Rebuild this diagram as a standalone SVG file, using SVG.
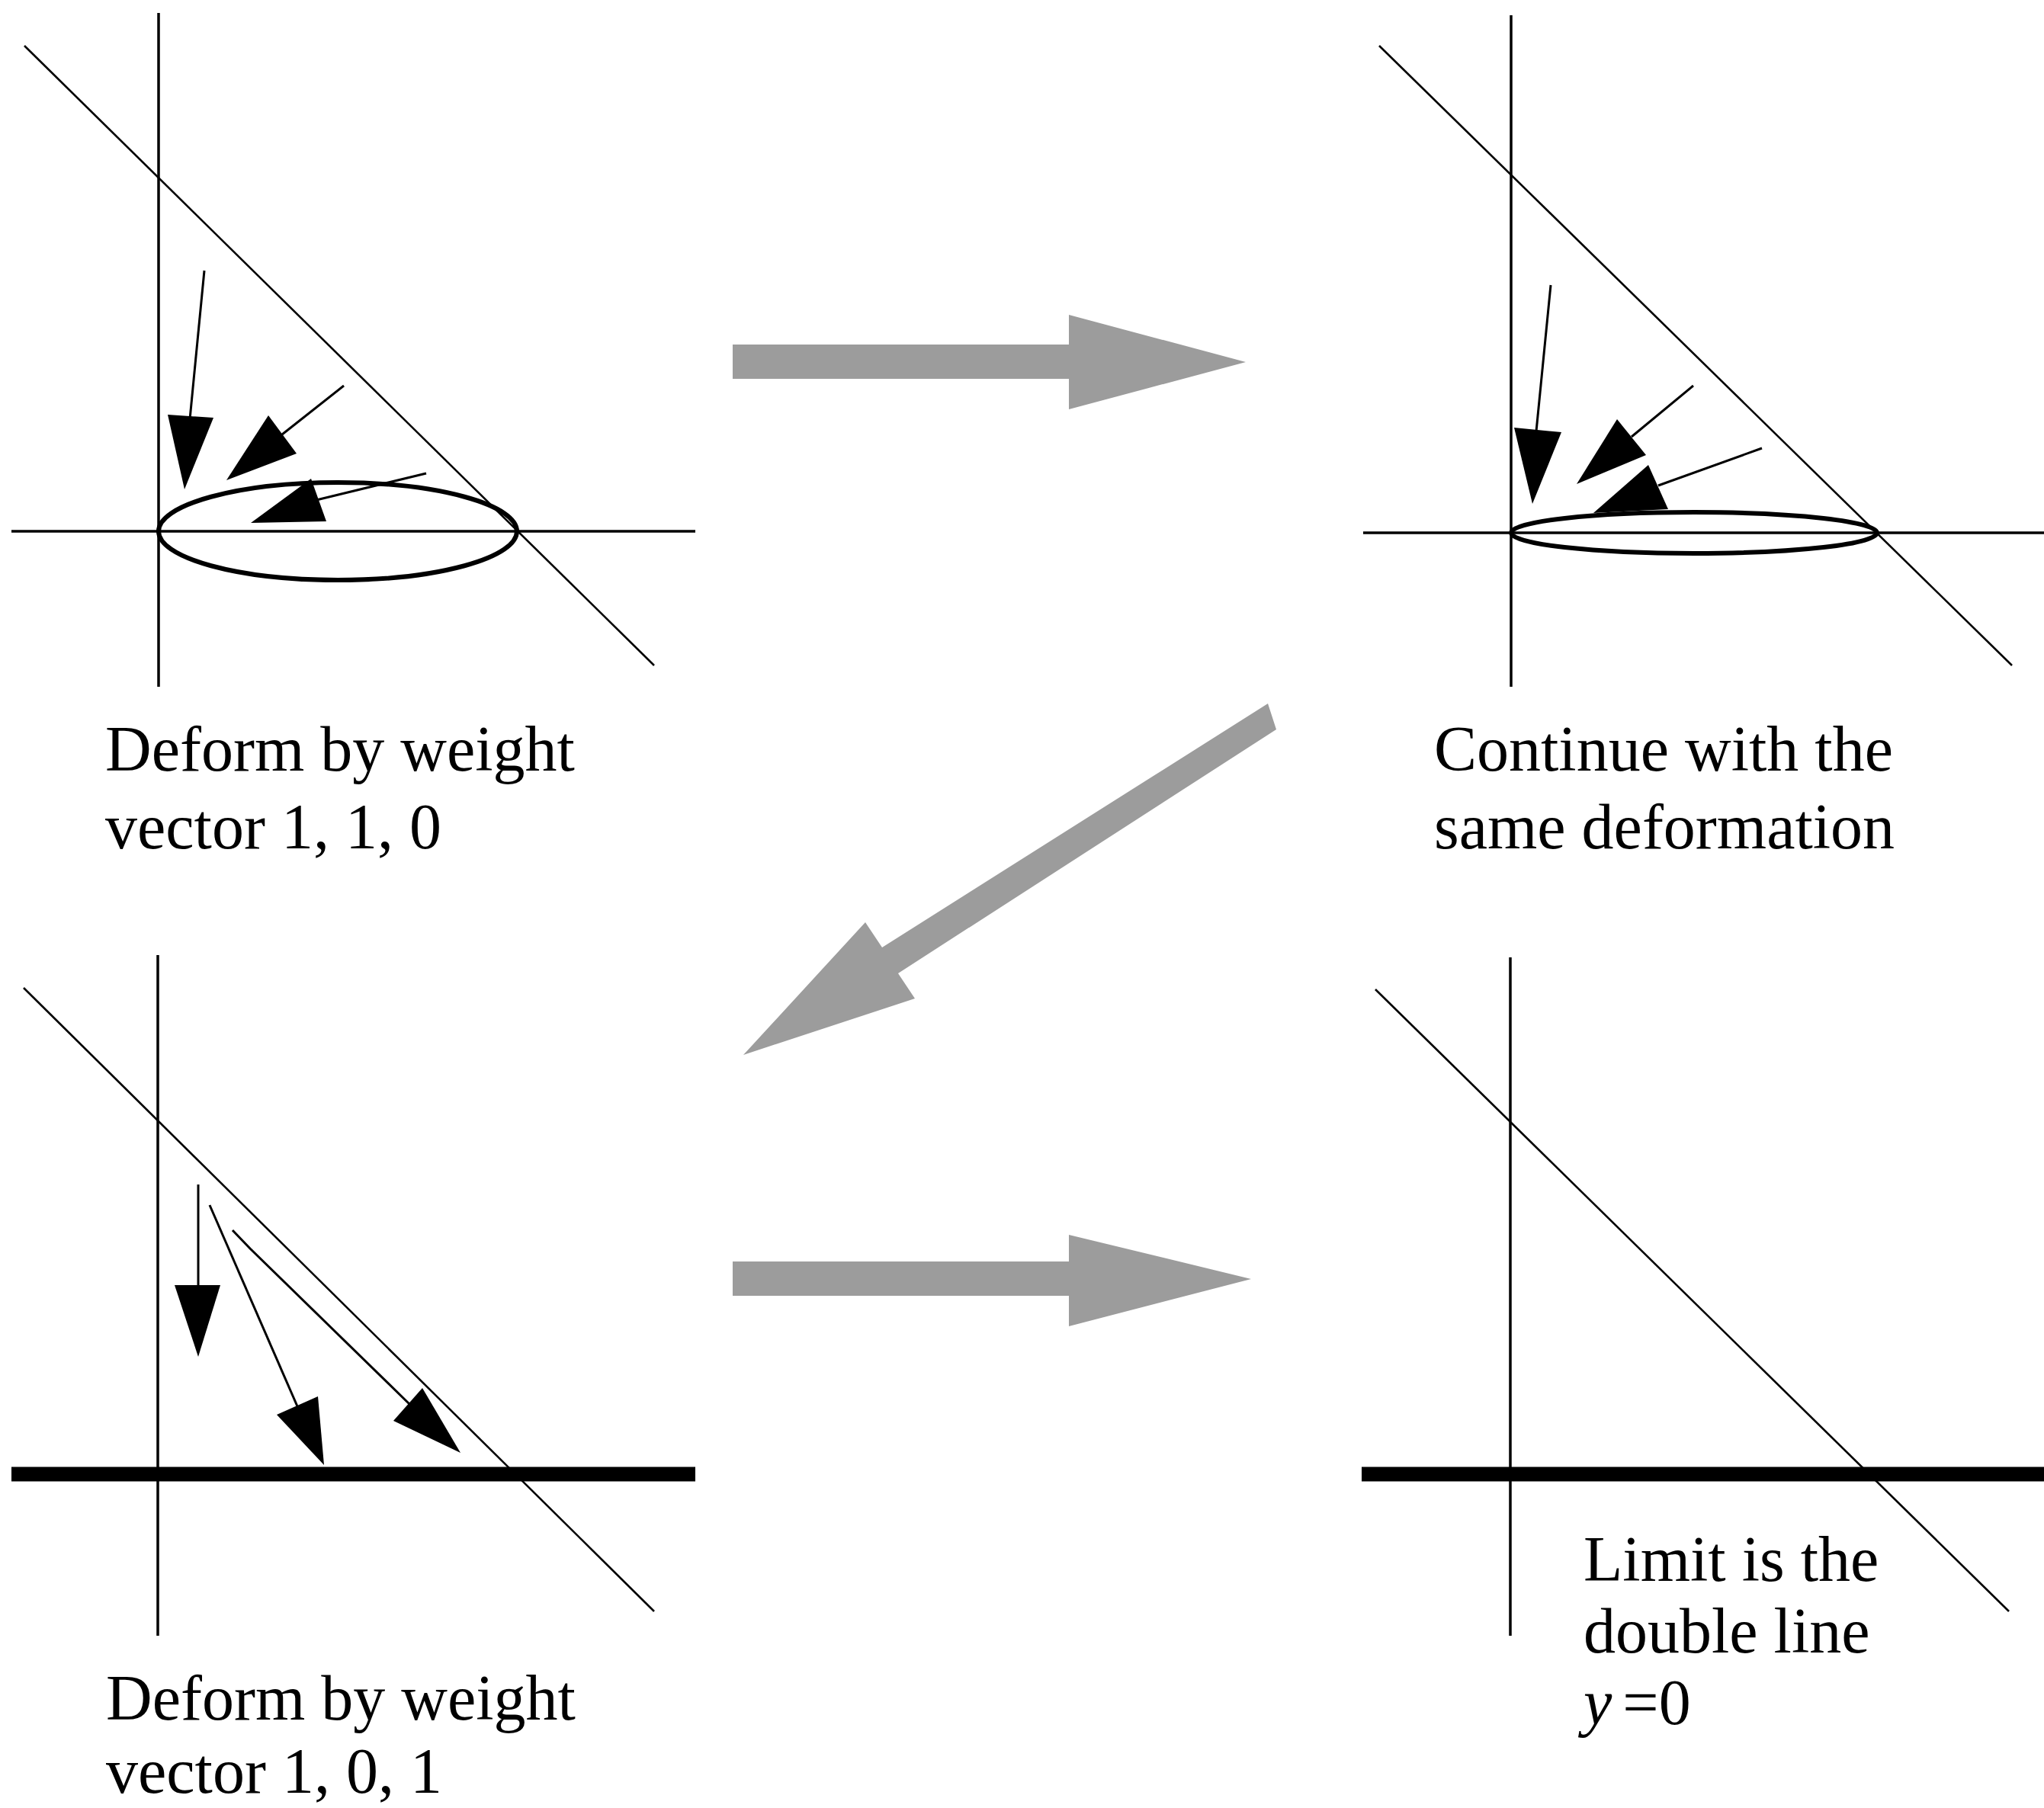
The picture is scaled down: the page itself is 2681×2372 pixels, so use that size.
<svg xmlns="http://www.w3.org/2000/svg" width="2681" height="2372" viewBox="0 0 2681 2372">
<style>
.axis{stroke:#000;stroke-width:3.5;fill:none}
.diag{stroke:#000;stroke-width:2.6;fill:none}
.thin{stroke:#000;stroke-width:3;fill:none}
.lens{stroke:#000;stroke-width:6;fill:none}
.thick{stroke:#000;stroke-width:19;fill:none}
.head{fill:#000;stroke:none}
.big{fill:#9c9c9c;stroke:none}
.lbl{font-family:"Liberation Serif","Times New Roman",serif;font-size:84px;fill:#000}
</style>
<rect width="2681" height="2372" fill="#fff"/>

<g id="panel-top-left">
<line class="axis" x1="208" y1="17" x2="208" y2="901"/>
<line class="axis" x1="15" y1="697" x2="912" y2="697"/>
<line class="diag" x1="32" y1="60" x2="858" y2="873"/>
<ellipse class="lens" cx="443" cy="697" rx="235" ry="64"/>
<line class="thin" x1="268" y1="355" x2="249" y2="550"/>
<polygon class="head" points="220,544 280,548 242,642"/>
<line class="thin" x1="451" y1="506" x2="370" y2="570"/>
<polygon class="head" points="352,545 389,595 297,630"/>
<line class="thin" x1="559" y1="621" x2="415" y2="656"/>
<polygon class="head" points="408,628 428,684 329,686"/>
<text class="lbl" x="138" y="1011">Deform by weight</text>
<text class="lbl" x="138" y="1113">vector 1, 1, 0</text>
</g>

<g id="panel-top-right">
<line class="axis" x1="1982" y1="20" x2="1982" y2="901"/>
<line class="axis" x1="1788" y1="699" x2="2681" y2="699"/>
<line class="diag" x1="1809" y1="60" x2="2639" y2="873"/>
<ellipse class="lens" cx="2222" cy="699" rx="240" ry="27"/>
<line class="thin" x1="2034" y1="374" x2="2015" y2="566"/>
<polygon class="head" points="1986,561 2048,567 2010,661"/>
<line class="thin" x1="2221" y1="506" x2="2140" y2="573"/>
<polygon class="head" points="2121,550 2159,597 2068,635"/>
<line class="thin" x1="2311" y1="588" x2="2175" y2="637"/>
<polygon class="head" points="2162,610 2188,668 2090,673"/>
<text class="lbl" x="1881" y="1011">Continue with the</text>
<text class="lbl" x="1881" y="1113">same deformation</text>
</g>

<g id="panel-bottom-left">
<line class="axis" x1="207" y1="1253" x2="207" y2="2146"/>
<line class="thick" x1="15" y1="1934" x2="912" y2="1934"/>
<line class="diag" x1="31" y1="1296" x2="858" y2="2114"/>
<line class="thin" x1="260" y1="1554" x2="260" y2="1690"/>
<polygon class="head" points="229,1686 289,1686 260,1780"/>
<line class="thin" x1="275" y1="1581" x2="390" y2="1845"/>
<polygon class="head" points="363,1856 417,1832 425,1922"/>
<polyline class="thin" points="305,1614 328,1638 537,1842"/>
<polygon class="head" points="516,1864 554,1821 604,1906"/>
<text class="lbl" x="139" y="2256">Deform by weight</text>
<text class="lbl" x="139" y="2352">vector 1, 0, 1</text>
</g>

<g id="panel-bottom-right">
<line class="axis" x1="1981" y1="1256" x2="1981" y2="2146"/>
<line class="thick" x1="1786" y1="1934" x2="2681" y2="1934"/>
<line class="diag" x1="1804" y1="1298" x2="2635" y2="2114"/>
<text class="lbl" x="2077" y="2074">Limit is the</text>
<text class="lbl" x="2077" y="2168">double line</text>
<text class="lbl" x="2077" y="2262"><tspan font-style="italic">y</tspan><tspan dx="14">=0</tspan></text>
</g>

<g id="connectors">
<polygon class="big" points="961,452 1402,452 1402,413 1634,475 1402,537 1402,497 961,497"/>
<polygon class="big" points="1663,923 1674,957 1178,1277 1200,1310 975,1384 1135,1210 1157,1243"/>
<polygon class="big" points="961,1655 1402,1655 1402,1620 1641,1678 1402,1740 1402,1700 961,1700"/>
</g>
</svg>
